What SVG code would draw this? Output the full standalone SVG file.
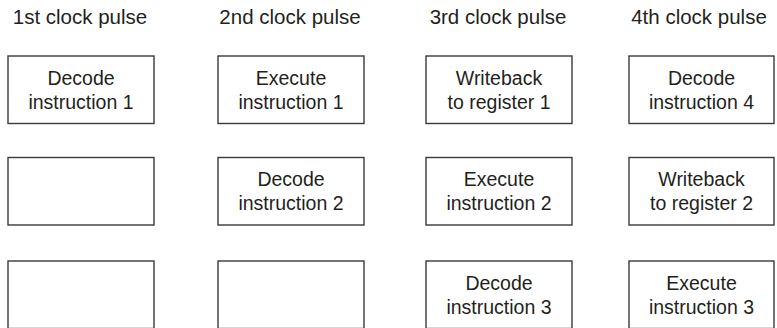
<svg xmlns="http://www.w3.org/2000/svg" width="777" height="328" viewBox="0 0 777 328">
<style>
  .box { fill: #ffffff; stroke: #3a3a3a; stroke-width: 1.4; }
  .hdr { font-family: "Liberation Sans", Arial, sans-serif; font-size: 20.5px; fill: #231f20; text-anchor: middle; }
  .lbl { font-family: "Liberation Sans", Arial, sans-serif; font-size: 19.5px; fill: #231f20; text-anchor: middle; }
</style>
<rect width="777" height="328" fill="#ffffff"/>
<g id="headers">
  <text class="hdr" x="80" y="24">1st clock pulse</text>
  <text class="hdr" x="290" y="24">2nd clock pulse</text>
  <text class="hdr" x="498" y="24">3rd clock pulse</text>
  <text class="hdr" x="699" y="24">4th clock pulse</text>
</g>
<g id="connectors"></g>
<g id="n-1-1"><rect class="box" x="8" y="56" width="146" height="67.5"/><text class="lbl" x="81" y="84.5">Decode</text><text class="lbl" x="81" y="108.5">instruction 1</text></g>
<g id="n-2-1"><rect class="box" x="8" y="157.5" width="146" height="67.5"/></g>
<g id="n-3-1"><rect class="box" x="8" y="261" width="146" height="67.5"/></g>
<g id="n-1-2"><rect class="box" x="218" y="56" width="146" height="67.5"/><text class="lbl" x="291" y="84.5">Execute</text><text class="lbl" x="291" y="108.5">instruction 1</text></g>
<g id="n-2-2"><rect class="box" x="218" y="157.5" width="146" height="67.5"/><text class="lbl" x="291" y="186">Decode</text><text class="lbl" x="291" y="210">instruction 2</text></g>
<g id="n-3-2"><rect class="box" x="218" y="261" width="146" height="67.5"/></g>
<g id="n-1-3"><rect class="box" x="426" y="56" width="146" height="67.5"/><text class="lbl" x="499" y="84.5">Writeback</text><text class="lbl" x="499" y="108.5">to register 1</text></g>
<g id="n-2-3"><rect class="box" x="426" y="157.5" width="146" height="67.5"/><text class="lbl" x="499" y="186">Execute</text><text class="lbl" x="499" y="210">instruction 2</text></g>
<g id="n-3-3"><rect class="box" x="426" y="261" width="146" height="67.5"/><text class="lbl" x="499" y="289.5">Decode</text><text class="lbl" x="499" y="313.5">instruction 3</text></g>
<g id="n-1-4"><rect class="box" x="629" y="56" width="145" height="67.5"/><text class="lbl" x="701.5" y="84.5">Decode</text><text class="lbl" x="701.5" y="108.5">instruction 4</text></g>
<g id="n-2-4"><rect class="box" x="629" y="157.5" width="145" height="67.5"/><text class="lbl" x="701.5" y="186">Writeback</text><text class="lbl" x="701.5" y="210">to register 2</text></g>
<g id="n-3-4"><rect class="box" x="629" y="261" width="145" height="67.5"/><text class="lbl" x="701.5" y="289.5">Execute</text><text class="lbl" x="701.5" y="313.5">instruction 3</text></g>
</svg>
